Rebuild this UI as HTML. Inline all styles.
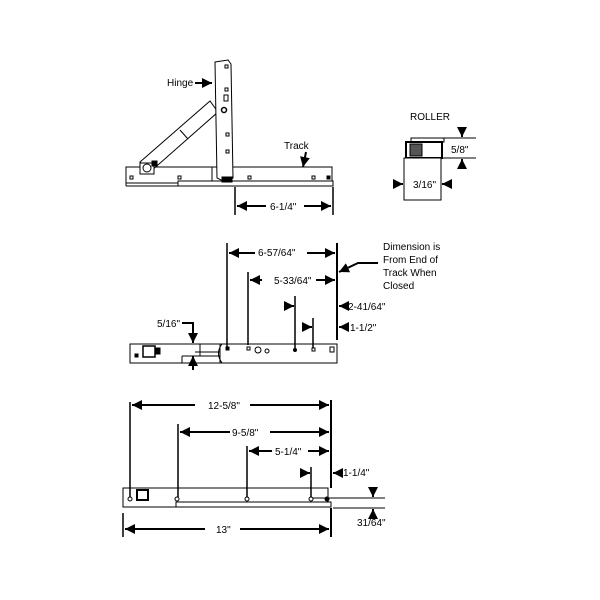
<!DOCTYPE html>
<html><head><style>body{margin:0;background:#fff}svg{display:block}text{font-family:"Liberation Sans",sans-serif;font-size:10px;fill:#000}</style></head>
<body>
<svg width="600" height="600" viewBox="0 0 600 600">
<defs>
<marker id="a" viewBox="0 0 10 10" refX="10" refY="5" markerWidth="5" markerHeight="5" orient="auto"><path d="M0,0L10,5L0,10z" fill="#000"/></marker>
</defs>
<g fill="none" stroke="#000" stroke-width="1">
<rect x="126" y="167" width="206" height="16" fill="#fff"/>
<line x1="126" y1="186" x2="178" y2="186"/>
<line x1="126" y1="183" x2="126" y2="186"/>
<rect x="178" y="181" width="155" height="5" fill="#fff"/>
<line x1="212" y1="167" x2="212" y2="181"/>
<polygon points="140,162 150,172 218,112 210,101" fill="#fff"/>
<line x1="180" y1="130" x2="188" y2="139"/>
<rect x="140" y="163" width="14" height="11" fill="#fff"/>
<circle cx="147" cy="168" r="4"/>
<rect x="152" y="161" width="5" height="5" fill="#000"/>
<path d="M215,62 L228,60 L231,64 L233,178 L223,181 L217,178 Z" fill="#fff"/>
<rect x="225" y="65" width="3" height="3"/><rect x="225" y="88" width="3" height="3"/><rect x="224" y="95" width="4" height="6"/>
<circle cx="224" cy="110" r="2.5" stroke-width="1.5"/><rect x="226" y="133" width="3" height="3"/><rect x="226" y="150" width="3" height="3"/>
<rect x="222" y="177" width="10" height="5" fill="#000"/>
<rect x="130" y="176" width="3" height="3"/><rect x="178" y="176" width="3" height="3"/><rect x="248" y="176" width="3" height="3"/><rect x="312" y="176" width="3" height="3"/><rect x="327" y="176" width="3" height="3" fill="#000"/>
<line x1="235" y1="187" x2="235" y2="215" stroke-width="1.5"/><line x1="333" y1="187" x2="333" y2="215" stroke-width="1.5"/>
<line x1="266" y1="206" x2="237" y2="206" stroke-width="2" marker-end="url(#a)"/>
<line x1="304" y1="206" x2="331" y2="206" stroke-width="2" marker-end="url(#a)"/>
<line x1="195" y1="83" x2="212" y2="83" stroke-width="2" marker-end="url(#a)"/>
<line x1="306" y1="152" x2="303" y2="167" stroke-width="2" marker-end="url(#a)"/>
<rect x="411" y="138" width="33" height="4" fill="#fff"/>
<rect x="406" y="142" width="36" height="16" fill="#fff" stroke-width="2"/>
<rect x="410" y="144" width="12" height="12" fill="#555"/>
<rect x="404" y="158" width="37" height="42" fill="#fff"/>
<line x1="444" y1="138" x2="476" y2="138"/><line x1="442" y1="158" x2="476" y2="158"/>
<line x1="462" y1="128" x2="462" y2="137" stroke-width="2" marker-end="url(#a)"/>
<line x1="462" y1="168" x2="462" y2="159" stroke-width="2" marker-end="url(#a)"/>
<line x1="396" y1="184" x2="403" y2="184" stroke-width="2" marker-end="url(#a)"/>
<line x1="449" y1="184" x2="442" y2="184" stroke-width="2" marker-end="url(#a)"/>
<rect x="130" y="344" width="207" height="19" fill="#fff"/>
<line x1="182" y1="356" x2="182" y2="363"/><line x1="182" y1="356" x2="220" y2="356"/>
<path d="M220,344 L220,363 M195,352 L220,352 M200,344 L200,356"/>
<path d="M222,344 Q215,353 222,363"/>
<rect x="143" y="346" width="12" height="11" fill="#fff" stroke-width="1.5"/><rect x="155" y="348" width="5" height="6" fill="#000"/>
<rect x="135" y="354" width="3" height="3" fill="#000"/>
<rect x="226" y="347" width="3" height="3" fill="#000"/><rect x="247" y="347" width="3" height="3"/><circle cx="258" cy="350" r="3"/><circle cx="267" cy="351" r="2"/>
<circle cx="295" cy="350" r="1.5" fill="#000"/><rect x="312" y="348" width="3" height="3"/><rect x="330" y="347" width="4" height="5"/>
<line x1="227" y1="243" x2="227" y2="348" stroke-width="1.5"/>
<line x1="248" y1="272" x2="248" y2="345" stroke-width="1.5"/>
<line x1="295" y1="296" x2="295" y2="348" stroke-width="1.5"/>
<line x1="313" y1="318" x2="313" y2="348" stroke-width="1.5"/>
<line x1="337" y1="243" x2="337" y2="340" stroke-width="2"/>
<line x1="255" y1="253" x2="229" y2="253" stroke-width="2" marker-end="url(#a)"/>
<line x1="307" y1="253" x2="335" y2="253" stroke-width="2" marker-end="url(#a)"/>
<line x1="262" y1="280" x2="250" y2="280" stroke-width="2" marker-end="url(#a)"/>
<line x1="316" y1="280" x2="335" y2="280" stroke-width="2" marker-end="url(#a)"/>
<line x1="285" y1="306" x2="294" y2="306" stroke-width="2" marker-end="url(#a)"/>
<line x1="303" y1="327" x2="312" y2="327" stroke-width="2" marker-end="url(#a)"/>
<line x1="346" y1="306" x2="339" y2="306" stroke-width="2" marker-end="url(#a)"/>
<line x1="346" y1="327" x2="339" y2="327" stroke-width="2" marker-end="url(#a)"/>
<path d="M182,323 L193,323 L193,343" stroke-width="2" marker-end="url(#a)"/>
<line x1="193" y1="370" x2="193" y2="356" stroke-width="2" marker-end="url(#a)"/>
<path d="M378,263 L358,263 L339,272" stroke-width="2" marker-end="url(#a)"/>
<rect x="123" y="488" width="205" height="19" fill="#fff"/>
<rect x="176" y="502" width="155" height="5" fill="#fff"/>
<rect x="137" y="490" width="11" height="10" stroke-width="2"/>
<circle cx="130" cy="499" r="2"/><circle cx="177" cy="499" r="2"/><circle cx="247" cy="499" r="2"/><circle cx="311" cy="499" r="2"/><circle cx="327" cy="499" r="2" fill="#000"/>
<line x1="130" y1="402" x2="130" y2="497" stroke-width="1.5"/>
<line x1="178" y1="424" x2="178" y2="497" stroke-width="1.5"/>
<line x1="247" y1="446" x2="247" y2="497" stroke-width="1.5"/>
<line x1="311" y1="467" x2="311" y2="497" stroke-width="1.5"/>
<line x1="331" y1="400" x2="331" y2="488" stroke-width="2"/>
<line x1="331" y1="508" x2="331" y2="537" stroke-width="2"/>
<line x1="123" y1="513" x2="123" y2="537" stroke-width="1.5"/>
<line x1="195" y1="405" x2="132" y2="405" stroke-width="2" marker-end="url(#a)"/>
<line x1="250" y1="405" x2="329" y2="405" stroke-width="2" marker-end="url(#a)"/>
<line x1="230" y1="432" x2="180" y2="432" stroke-width="2" marker-end="url(#a)"/>
<line x1="270" y1="432" x2="329" y2="432" stroke-width="2" marker-end="url(#a)"/>
<line x1="272" y1="451" x2="249" y2="451" stroke-width="2" marker-end="url(#a)"/>
<line x1="308" y1="451" x2="329" y2="451" stroke-width="2" marker-end="url(#a)"/>
<line x1="303" y1="473" x2="310" y2="473" stroke-width="2" marker-end="url(#a)"/>
<line x1="340" y1="473" x2="333" y2="473" stroke-width="2" marker-end="url(#a)"/>
<line x1="205" y1="529" x2="125" y2="529" stroke-width="2" marker-end="url(#a)"/>
<line x1="240" y1="529" x2="329" y2="529" stroke-width="2" marker-end="url(#a)"/>
<line x1="313" y1="498" x2="385" y2="498"/><line x1="333" y1="508" x2="385" y2="508"/>
<line x1="373" y1="488" x2="373" y2="497" stroke-width="2" marker-end="url(#a)"/>
<line x1="373" y1="518" x2="373" y2="509" stroke-width="2" marker-end="url(#a)"/>
</g>
<text x="167" y="86">Hinge</text>
<text x="284" y="149">Track</text>
<text x="270" y="210">6-1/4"</text>
<text x="410" y="120">ROLLER</text>
<text x="451" y="153">5/8"</text>
<text x="413" y="188">3/16"</text>
<text x="258" y="256">6-57/64"</text>
<text x="274" y="284">5-33/64"</text>
<text x="348" y="310">2-41/64"</text>
<text x="350" y="331">1-1/2"</text>
<text x="157" y="327">5/16"</text>
<text x="383" y="250">Dimension is</text>
<text x="383" y="263">From End of</text>
<text x="383" y="276">Track When</text>
<text x="383" y="289">Closed</text>
<text x="208" y="409">12-5/8"</text>
<text x="232" y="436">9-5/8"</text>
<text x="275" y="455">5-1/4"</text>
<text x="343" y="476">1-1/4"</text>
<text x="216" y="533">13"</text>
<text x="357" y="526">31/64"</text>
</svg>
</body></html>
